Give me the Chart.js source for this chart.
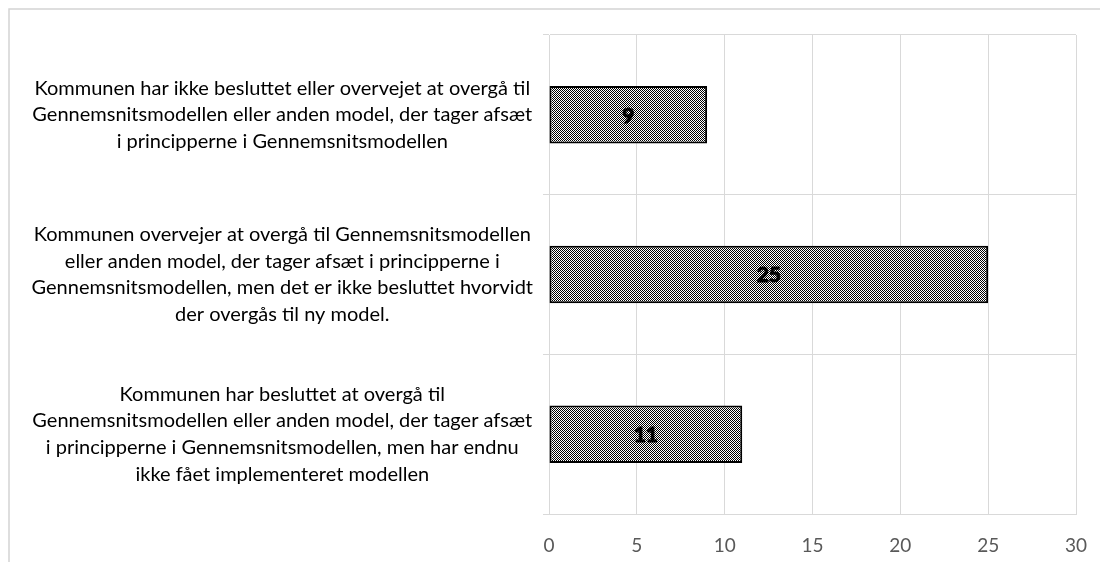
<!DOCTYPE html>
<html lang="da">
  <head>
    <meta charset="UTF-8" />
    <title>Gennemsnitsmodellen</title>
    <script src="https://cdn.jsdelivr.net/npm/chart.js@4.4.0/dist/chart.umd.min.js"></script>
    <style>
      html, body { margin: 0; padding: 0; background: #fff; }
      #wrap { width: 1100px; height: 562px; }
    </style>
  </head>
  <body>
    <div id="wrap"><canvas id="chart" width="1100" height="562"></canvas></div>
    <script>
      const labels = [
        ['Kommunen har ikke besluttet eller overvejet at overgå til',
         'Gennemsnitsmodellen eller anden model, der tager afsæt',
         'i principperne i Gennemsnitsmodellen'],
        ['Kommunen overvejer at overgå til Gennemsnitsmodellen',
         'eller anden model, der tager afsæt i principperne i',
         'Gennemsnitsmodellen, men det er ikke besluttet hvorvidt',
         'der overgås til ny model.'],
        ['Kommunen har besluttet at overgå til',
         'Gennemsnitsmodellen eller anden model, der tager afsæt',
         'i principperne i Gennemsnitsmodellen, men har endnu',
         'ikke fået implementeret modellen']
      ]
      const values = [9, 25, 11]
      const xMin = 0
      const xMax = 30
      const xStep = 5

      // dotted fill like the Excel pattern
      function makePattern() {
        const c = document.createElement('canvas')
        c.width = 2
        c.height = 2
        const g = c.getContext('2d')
        g.fillStyle = '#ffffff'
        g.fillRect(0, 0, 2, 2)
        g.fillStyle = '#000000'
        g.fillRect(0, 0, 1, 1)
        g.fillRect(1, 1, 1, 1)
        return g.createPattern(c, 'repeat')
      }

      const frame = {
        id: 'frame',
        beforeDraw(chart) {
          const g = chart.ctx
          g.save()
          g.strokeStyle = '#d4d4d4'
          g.lineWidth = 1.5
          g.strokeRect(9, 9, 1300, 1300)
          g.restore()
        }
      }

      const valueLabels = {
        id: 'valueLabels',
        afterDatasetsDraw(chart) {
          const g = chart.ctx
          const meta = chart.getDatasetMeta(0)
          g.save()
          g.font = 'bold 21px Lato'
          g.fillStyle = '#000'
          g.strokeStyle = '#000'
          g.lineWidth = 1
          g.textAlign = 'center'
          g.textBaseline = 'middle'
          meta.data.forEach((bar, i) => {
            const x = (bar.x + bar.base) / 2
            g.fillText(String(values[i]), x, bar.y + 1)
            g.strokeText(String(values[i]), x, bar.y + 1)
          })
          g.restore()
        }
      }

      const ctx = document.getElementById('chart')
      const myChart = new Chart(ctx, {
        type: 'bar',
        data: {
          labels: labels,
          datasets: [{
            data: values,
            backgroundColor: makePattern(),
            borderColor: '#000',
            borderWidth: 2,
            borderSkipped: false,
            categoryPercentage: 1,
            barPercentage: 0.36
          }]
        },
        options: {
          indexAxis: 'y',
          responsive: false,
          animation: false,
          layout: { padding: { top: 35, right: 24, left: 0, bottom: 0 } },
          plugins: {
            legend: { display: false },
            tooltip: { enabled: false }
          },
          scales: {
            x: {
              min: xMin,
              max: xMax,
              ticks: {
                stepSize: xStep,
                color: '#595959',
                padding: 20,
                font: { family: 'Lato', size: 19 }
              },
              grid: { color: '#d9d9d9', drawTicks: false },
              border: { color: '#d9d9d9' },
              afterFit(scale) {
                scale.height = 48
                scale.paddingLeft = 0
                scale.paddingRight = 0
              }
            },
            y: {
              ticks: {
                color: '#000',
                crossAlign: 'center',
                padding: 10,
                autoSkip: false,
                font: { family: 'Lato', size: 20, lineHeight: 1.33 }
              },
              grid: { color: '#d9d9d9', tickLength: 6 },
              border: { color: '#d9d9d9' },
              afterFit(scale) {
                scale.width = 549
                scale.paddingTop = 0
                scale.paddingBottom = 0
              }
            }
          }
        },
        plugins: [frame, valueLabels]
      })
    </script>
  </body>
</html>
